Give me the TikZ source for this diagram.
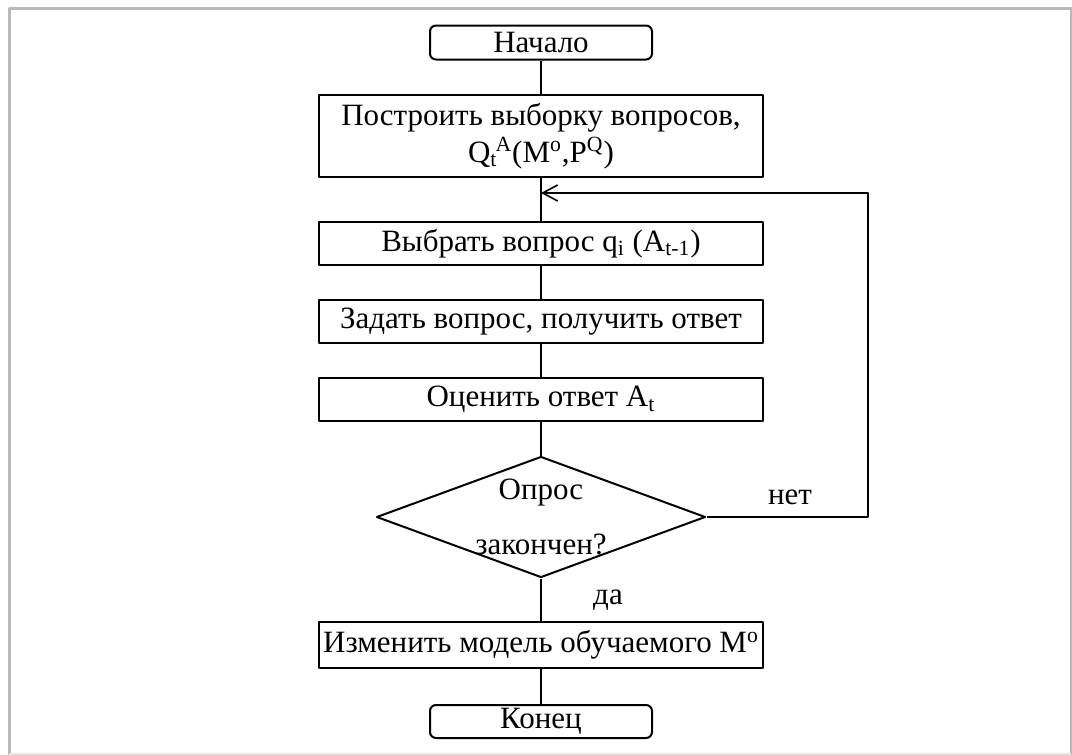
\documentclass[tikz,border=0pt]{standalone}
\usepackage{fontspec}
\setmainfont{Liberation Serif}
\usetikzlibrary{shapes.geometric,arrows.meta}

\begin{document}
\begin{tikzpicture}[x=0.5pt,y=-0.5pt,line join=round,line width=0.8pt,
	font=\fontsize{15.5}{18.5}\selectfont,
	block/.style={draw,line width=1pt,minimum width=222pt,minimum height=21.5pt,inner sep=0pt,align=center},
	term/.style={draw,line width=1pt,rounded corners=3pt,minimum width=111pt,minimum height=17pt,inner sep=0pt},
	decide/.style={draw,diamond,line width=1pt,aspect=2.72,minimum width=164.5pt,minimum height=60.5pt,inner sep=0pt},
	lbl/.style={inner sep=0pt,align=center}]
	
	\useasboundingbox (0,0) rectangle (1072,755);
	\draw[gray!55,line width=1.5pt] (9,755) -- (9,8) -- (1071,8) -- (1071,755);
	\draw[gray!20,line width=1.5pt] (9,754) -- (1071,754);
	
	\node[term] (start) at (541,42.5) {Начало};
	\node[block,minimum height=41pt] (build) at (541,136)
	{Построить выборку вопросов,\\ Q\textsubscript{t}\kern-1pt\textsuperscript{A}(M\textsuperscript{o},P\textsuperscript{Q})};
	\node[block] (pick) at (541,243.5) {Выбрать вопрос q\textsubscript{i} (A\textsubscript{t-1})};
	\node[block] (ask) at (541,321.5) {Задать вопрос, получить ответ};
	\node[block] (rate) at (541,399.5) {Оценить ответ A\textsubscript{t}};
	\node[decide] (check) at (541,517) {};
	\node[lbl] (checktxt) at (check) {Опрос\\[9pt] закончен?};
	\node[block,minimum height=23pt] (update) at (541,645) {Изменить модель обучаемого M\textsuperscript{o}};
	\node[term,minimum height=16.5pt] (stop) at (541,721.5) {Конец};
	
	\coordinate (back) at (541,193);
	\coordinate (loopup) at (868,193);
	
	\draw (start) -- (build);
	\draw (build) -- (pick);
	\draw (pick) -- (ask);
	\draw (ask) -- (rate);
	\draw (rate) -- (check);
	\draw (check) -- (update);
	\draw (update) -- (stop);
	\draw[-{Straight Barb[length=7.5pt,width=8pt]}] (check.east) -| (loopup) -- (back);
	
	\node[lbl] (no) at (790,497) {нет};
	\node[lbl] (yes) at (608,600) {да};
\end{tikzpicture}
\end{document}
